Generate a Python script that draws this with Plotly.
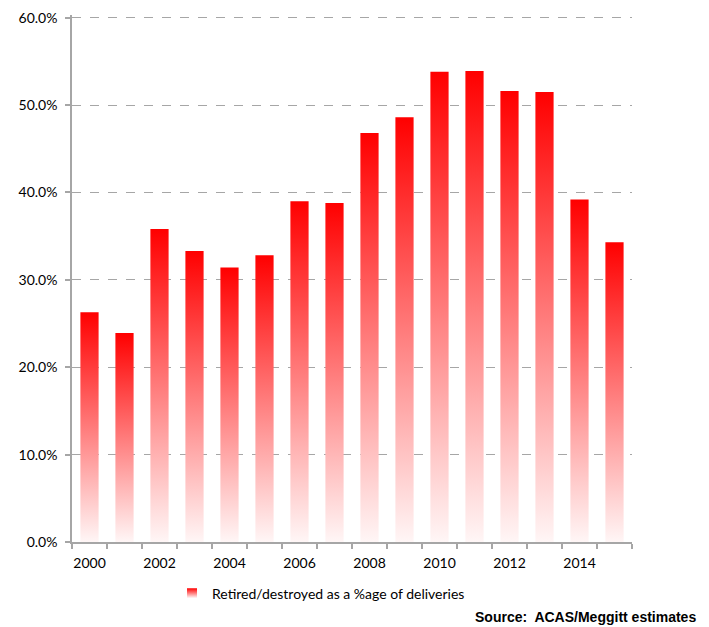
import plotly.graph_objects as go

years = list(range(2000, 2016))
values = [26.3, 23.9, 35.8, 33.3, 31.4, 32.8, 39.0, 38.8, 46.8, 48.6, 53.8, 53.9, 51.6, 51.5, 39.2, 34.3]
y_ticks = [0, 10, 20, 30, 40, 50, 60]
x_label_years = [2000, 2002, 2004, 2006, 2008, 2010, 2012, 2014]
series_name = "Retired/destroyed as a %age of deliveries"
source_text = "Source:  ACAS/Meggitt estimates"

half = 0.26
fig = go.Figure()
for i, (yr, v) in enumerate(zip(years, values)):
    fig.add_trace(go.Scatter(
        x=[yr - half, yr + half, yr + half, yr - half, yr - half],
        y=[0, 0, v, v, 0],
        mode="lines",
        fill="toself",
        line=dict(width=0, color="rgba(255,0,0,0)"),
        fillgradient=dict(type="vertical",
                          colorscale=[[0, "#fff6f6"], [1, "#ff0000"]]),
        name=series_name,
        showlegend=False,
        hoverinfo="skip",
    ))

# legend entry
fig.add_trace(go.Scatter(
    x=[None], y=[None], mode="markers", name=series_name,
    marker=dict(symbol="square", size=10, color="#ff0000",
                gradient=dict(type="vertical", color="#ffffff")),
    showlegend=True,
))

axis_col = "#a6a6a6"
fig.update_layout(
    width=709, height=627,
    margin=dict(l=72, r=77, t=9, b=85),
    paper_bgcolor="white", plot_bgcolor="white",
    font=dict(family="Lato, Open Sans, sans-serif", size=14, color="#000000"),
    xaxis=dict(
        range=[1999.5, 2015.5],
        tickmode="array", tickvals=x_label_years,
        ticktext=[str(y) for y in x_label_years],
        ticks="", showgrid=False, zeroline=False,
        showline=True, linecolor=axis_col, linewidth=1.5,
        minor=dict(tickmode="linear", tick0=1999.5, dtick=1, ticks="outside",
                   ticklen=5, tickcolor=axis_col, tickwidth=1.5, showgrid=False),
        tickfont=dict(size=14), ticklabelstandoff=7,
    ),
    yaxis=dict(
        range=[0, 60.3],
        tickmode="array", tickvals=y_ticks,
        ticktext=[f"{t:.1f}%" for t in y_ticks],
        ticks="outside", ticklen=5, tickcolor=axis_col, tickwidth=1.5,
        showgrid=True, gridcolor="#a6a6a6", griddash="dash", gridwidth=1,
        zeroline=False, showline=True, linecolor=axis_col, linewidth=1.5,
        tickfont=dict(size=14), ticklabelstandoff=5,
    ),
    showlegend=True,
    legend=dict(orientation="h", x=0.1786, xanchor="left", y=-0.098, yanchor="middle",
                font=dict(size=14), itemwidth=30, bgcolor="rgba(0,0,0,0)"),
    annotations=[dict(
        text="<b>" + source_text + "</b>", xref="paper", yref="paper",
        x=1.118, y=-0.143, xanchor="right", yanchor="middle", showarrow=False,
        font=dict(family="Liberation Sans, Arial, sans-serif", size=14, color="#000000"),
    )],
)

fig.write_html("out.html")
